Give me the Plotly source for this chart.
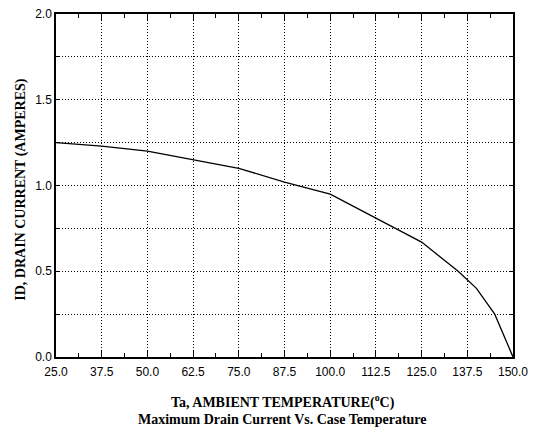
import plotly.graph_objects as go

temp_c = [25, 37.5, 50, 62.5, 75, 87.5, 100, 112.5, 125, 135, 140, 145, 150]
drain_a = [1.25, 1.23, 1.20, 1.15, 1.10, 1.02, 0.95, 0.81, 0.67, 0.50, 0.40, 0.25, 0.0]

x_ticks = [25.0, 37.5, 50.0, 62.5, 75.0, 87.5, 100.0, 112.5, 125.0, 137.5, 150.0]
x_labels = ["25.0", "37.5", "50.0", "62.5", "75.0", "87.5", "100.0", "112.5", "125.0", "137.5", "150.0"]
y_ticks = [0.0, 0.25, 0.5, 0.75, 1.0, 1.25, 1.5, 1.75, 2.0]
y_labels = ["0.0", " ", "0.5", " ", "1.0", " ", "1.5", " ", "2.0"]

tick_font = dict(family="Liberation Sans Narrow, Arial Narrow, Liberation Sans", size=12, color="black")
title_font = dict(family="Liberation Serif", size=14, color="black")

fig = go.Figure()
fig.add_trace(go.Scatter(x=temp_c, y=drain_a, mode="lines",
                         line=dict(color="black", width=1.3), showlegend=False))

fig.update_xaxes(range=[25, 150], tickvals=x_ticks, ticktext=x_labels,
                 showline=True, linecolor="black", linewidth=1.5, mirror="ticks",
                 ticks="inside", ticklen=6, tickcolor="black", tickwidth=1,
                 showgrid=True, gridcolor="#000", griddash="1px,2px", gridwidth=1,
                 minor=dict(dtick=6.25, tick0=25, ticks="inside", ticklen=4, tickcolor="black", showgrid=False),
                 tickfont=tick_font, ticklabelstandoff=3, zeroline=False, automargin=False)
fig.update_yaxes(range=[0, 2.0], tickvals=y_ticks, ticktext=y_labels,
                 showline=True, linecolor="black", linewidth=1.5, mirror="ticks",
                 ticks="inside", ticklen=4, tickcolor="black",
                 showgrid=True, gridcolor="#000", griddash="1px,2px", gridwidth=1,
                 tickfont=tick_font, zeroline=False, automargin=False)

fig.add_annotation(text="<b>Ta, AMBIENT TEMPERATURE(<sup>o</sup>C)</b>", xref="paper", yref="paper",
                   x=0.496, y=-0.131, xanchor="center", yanchor="middle", showarrow=False, font=title_font)
fig.add_annotation(text="<b>Maximum Drain Current Vs. Case Temperature</b>", xref="paper", yref="paper",
                   x=0.496, y=-0.181, xanchor="center", yanchor="middle", showarrow=False, font=title_font)
fig.add_annotation(text="<b>ID, DRAIN CURRENT (AMPERES)</b>", xref="paper", yref="paper",
                   x=-0.077, y=0.49, xanchor="center", yanchor="middle", textangle=-90, showarrow=False, font=title_font)

fig.update_layout(width=534, height=432, margin=dict(l=56, r=21, t=14, b=75),
                  paper_bgcolor="white", plot_bgcolor="white")
fig.write_html("out.html", config={"displayModeBar": False},
               post_script="document.body.style.margin='0';document.body.style.overflow='hidden';")
